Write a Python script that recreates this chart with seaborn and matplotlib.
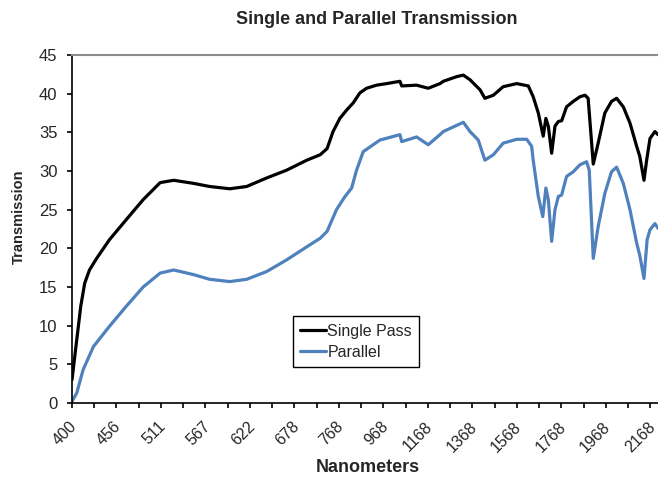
import numpy as np
import pandas as pd
import matplotlib
matplotlib.use('Agg')
import matplotlib.pyplot as plt
import matplotlib.transforms as mtransforms
import seaborn as sns

# wavelengths (nm) and transmission values
single_nm = [400, 406, 411, 416, 422, 431, 447, 468, 489, 510, 527, 552, 572, 597, 618,
             643, 668, 703, 730, 744, 756, 772, 803, 832, 862, 892, 937, 982, 1042, 1050,
             1117, 1169, 1222, 1237, 1297, 1327, 1357, 1402, 1424, 1462, 1506, 1567, 1619,
             1641, 1664, 1686, 1698, 1709, 1724, 1739, 1754, 1769, 1791, 1821, 1851, 1874,
             1888, 1911, 1933, 1963, 1993, 2016, 2046, 2076, 2106, 2120, 2139, 2151, 2166,
             2188, 2202]
single_pass = [3.0, 8.2, 12.5, 15.5, 17.2, 18.7, 21.1, 23.7, 26.3, 28.5, 28.8, 28.4, 28.0,
               27.7, 28.0, 29.1, 30.1, 31.4, 32.1, 32.9, 35.1, 36.8, 37.9, 38.8, 40.1, 40.7,
               41.1, 41.3, 41.6, 41.0, 41.1, 40.7, 41.3, 41.6, 42.2, 42.4, 41.8, 40.5, 39.4,
               39.8, 40.9, 41.3, 41.0, 39.6, 37.5, 34.5, 36.8, 35.8, 32.3, 35.8, 36.4, 36.5,
               38.3, 39.0, 39.6, 39.8, 39.4, 30.9, 33.6, 37.5, 39.0, 39.4, 38.3, 36.2, 33.2,
               31.9, 28.8, 31.4, 34.2, 35.1, 34.7]

parallel_nm = [400, 406, 414, 427, 447, 468, 489, 510, 527, 552, 572, 597, 618, 643, 668,
               703, 730, 744, 763, 795, 825, 847, 877, 907, 952, 1042, 1050, 1117, 1169,
               1222, 1237, 1297, 1327, 1357, 1394, 1424, 1462, 1506, 1567, 1612, 1634, 1641,
               1664, 1684, 1698, 1709, 1724, 1739, 1754, 1769, 1791, 1821, 1851, 1881, 1893,
               1911, 1933, 1963, 1993, 2016, 2046, 2076, 2106, 2120, 2139, 2153, 2166, 2188,
               2202]
parallel = [0.2, 1.3, 4.3, 7.3, 9.9, 12.5, 15.0, 16.8, 17.2, 16.6, 16.0, 15.7, 16.0, 17.0,
            18.5, 20.2, 21.3, 22.2, 25.0, 26.7, 27.8, 30.1, 32.5, 33.1, 34.0, 34.7, 33.8,
            34.4, 33.4, 34.7, 35.1, 35.9, 36.3, 35.1, 34.0, 31.4, 32.1, 33.6, 34.1, 34.1,
            33.2, 31.4, 26.7, 24.1, 27.8, 26.3, 20.9, 25.0, 26.7, 26.9, 29.3, 29.9, 30.8,
            31.2, 30.1, 18.7, 22.8, 27.1, 29.9, 30.5, 28.4, 25.0, 20.7, 19.1, 16.1, 21.1,
            22.4, 23.2, 22.6]

# category-style axis labels (evenly spaced in the original)
tick_nm = [400, 456, 511, 567, 622, 678, 768, 968, 1168, 1368, 1568, 1768, 1968, 2168]

df = pd.concat([
    pd.DataFrame({'nm': single_nm, 'T': single_pass, 'series': 'Single Pass'}),
    pd.DataFrame({'nm': parallel_nm, 'T': parallel, 'series': 'Parallel'}),
])

sns.set_style('ticks')
plt.rcParams['font.family'] = ['Liberation Sans', 'DejaVu Sans']

# piecewise-linear scale so the labelled wavelengths sit at equal spacing
knots_nm = np.array([344] + tick_nm + [2368], dtype=float)
knots_pos = np.arange(-1, len(tick_nm) + 1, dtype=float)


def fwd(x):
    return np.interp(x, knots_nm, knots_pos)


def inv(p):
    return np.interp(p, knots_pos, knots_nm)


fig = plt.figure(figsize=(6.58, 4.8), dpi=100)
ax = fig.add_axes([72 / 658, 77 / 480, 586 / 658, 348 / 480])
ax.set_xscale('function', functions=(fwd, inv))

sns.lineplot(data=df, x='nm', y='T', hue='series', sort=False, estimator=None,
             palette={'Single Pass': 'black', 'Parallel': '#4F81BD'},
             linewidth=2.3, ax=ax)

ax.set_xlim(400, 2202)
ax.set_ylim(0, 45)
ax.set_yticks(range(0, 50, 5))
ax.set_xticks(tick_nm)
ax.set_xticklabels([str(t) for t in tick_nm], rotation=45, ha='right', rotation_mode='anchor')
minor = [inv(p + 0.5) for p in range(len(tick_nm) - 1)]
ax.set_xticks(minor, minor=True)
ax.tick_params(axis='both', which='both', direction='out', length=3.5, width=1.2,
               color='black')
ax.tick_params(axis='y', labelsize=12, pad=7)
ax.tick_params(axis='x', which='major', labelsize=11.5, pad=8)

# nudge rotated labels a little left so the last one stays inside the figure
shift = mtransforms.ScaledTranslation(-3 / 100, 0, fig.dpi_scale_trans)
for lab in ax.get_xticklabels():
    lab.set_transform(lab.get_transform() + shift)

for s in ['left', 'bottom']:
    ax.spines[s].set_color('black')
    ax.spines[s].set_linewidth(1.2)
ax.spines['top'].set_color('#8c8c8c')
ax.spines['top'].set_linewidth(1.5)
ax.spines['right'].set_visible(False)

fig.text(377 / 658, 1 - 20 / 480, 'Single and Parallel Transmission', fontsize=13,
         fontweight='bold', ha='center', va='center')
ax.set_xlabel('Nanometers', fontsize=13, fontweight='bold')
ax.xaxis.set_label_coords(0.505, -(468 - 403) / 348)
ax.xaxis.label.set_va('center')
ax.set_ylabel('Transmission', fontsize=10.5, fontweight='bold')
ax.yaxis.set_label_coords(-(72 - 19) / 586, (403 - 217) / 348)
ax.yaxis.label.set_va('center')

leg = ax.legend(loc='lower left', bbox_to_anchor=(0.377, 0.103), fontsize=11.5,
                frameon=True, fancybox=False, handlelength=1.6, handletextpad=0.1,
                borderpad=0.45, labelspacing=0.4, borderaxespad=0)
leg.get_frame().set_edgecolor('black')
leg.get_frame().set_linewidth(1.0)
leg.get_frame().set_alpha(1)

fig.savefig('out.png', dpi=100)
